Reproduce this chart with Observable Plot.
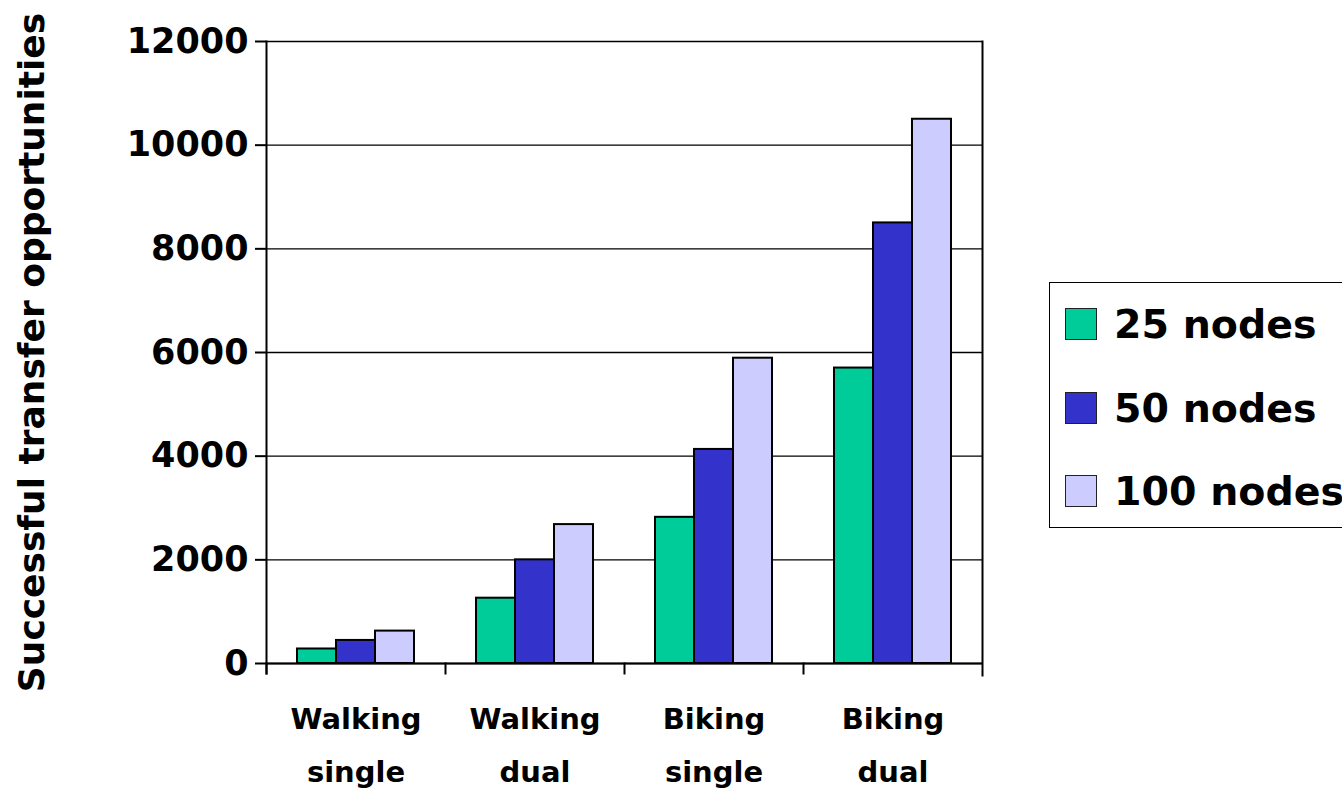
<!DOCTYPE html>
<html>
<head>
<meta charset="utf-8">
<script src="https://cdn.jsdelivr.net/npm/d3@7"></script>
<script src="https://cdn.jsdelivr.net/npm/@observablehq/plot@0.6"></script>
<style>
  html, body { margin: 0; padding: 0; background: #fff; overflow: hidden; }
  #wrap { position: relative; width: 1342px; height: 797px; font-family: "DejaVu Sans", sans-serif; font-weight: bold; }
  #legend {
    position: absolute; left: 1049px; top: 282px; width: 330px; height: 246px;
    border: 1.5px solid #000; box-sizing: border-box; background: #fff;
  }
  .item { position: absolute; left: 15px; display: flex; align-items: center; font-size: 39.5px; color: #000; white-space: nowrap; }
  .sw { width: 32px; height: 32px; border: 1.5px solid #222; box-sizing: border-box; margin-right: 17px; }
</style>
</head>
<body>
<div id="wrap"></div>
<script>
// Successful transfer opportunities by mobility scenario and network size
const categories = ["Walking single", "Walking dual", "Biking single", "Biking dual"];
const seriesNames = ["25 nodes", "50 nodes", "100 nodes"];
const nodes25 = [280, 1260, 2820, 5700];
const nodes50 = [445, 2000, 4130, 8500];
const nodes100 = [625, 2680, 5890, 10500];
const seriesColors = ["#00CC99", "#3333CC", "#CCCCFF"];
const yTicks = [0, 2000, 4000, 6000, 8000, 10000, 12000];

const seriesValues = [nodes25, nodes50, nodes100];
const rows = [];
categories.forEach((c, i) => {
  seriesNames.forEach((s, j) => rows.push({group: c, series: s, value: seriesValues[j][i]}));
});

const W = 1342, H = 797;
const margin = {top: 41, right: 360, bottom: 134, left: 265};
const innerH = H - margin.top - margin.bottom;
const font = "DejaVu Sans, sans-serif";

const chart = Plot.plot({
  width: W,
  height: H,
  marginTop: margin.top,
  marginRight: margin.right,
  marginBottom: margin.bottom,
  marginLeft: margin.left,
  style: {fontFamily: font, fontWeight: "bold", color: "#000", background: "#fff"},
  fx: {domain: categories, padding: 0},
  x: {domain: seriesNames, paddingInner: 0, paddingOuter: 0.74, axis: null},
  y: {domain: [0, 12000]},
  color: {domain: seriesNames, range: seriesColors},
  marks: [
    Plot.gridY(yTicks, {stroke: "#000", strokeOpacity: 1, strokeWidth: 1.3}),
    Plot.barY(rows, {fx: "group", x: "series", y: "value", fill: "series", stroke: "#000", strokeWidth: 2}),
    Plot.ruleY([0], {stroke: "#000", strokeWidth: 2}),
    // vertical axis line and right plot edge, both reaching below the baseline
    Plot.frame({anchor: "left", facetAnchor: "left", insetBottom: -10, stroke: "#000", strokeWidth: 2}),
    Plot.frame({anchor: "right", facetAnchor: "right", insetBottom: -12, stroke: "#000", strokeWidth: 2}),
    // short ticks between category groups
    Plot.frame({anchor: "left", insetTop: innerH, insetBottom: -10, stroke: "#000", strokeWidth: 2}),
    // tick labels
    Plot.axisY(yTicks, {
      anchor: "left",
      tickSize: 11,
      tickPadding: 7,
      strokeWidth: 2,
      fontSize: 35,
      tickFormat: (d) => String(d),
      label: null
    }),
    // axis title
    Plot.axisY([], {
      anchor: "left",
      tickSize: 0,
      fontSize: 36,
      label: "Successful transfer opportunities",
      labelAnchor: "center",
      labelArrow: "none",
      labelOffset: 248
    }),
    Plot.axisFx({
      anchor: "bottom",
      tickSize: 0,
      tickPadding: 28,
      fontSize: 29,
      lineHeight: 1.83,
      label: null,
      tickFormat: (d) => d.replace(" ", "\n")
    })
  ]
});

const wrap = document.getElementById("wrap");
wrap.appendChild(chart);

// legend box on the right
const legend = document.createElement("div");
legend.id = "legend";
const itemTops = [18, 102, 185];
seriesNames.forEach((s, i) => {
  const item = document.createElement("div");
  item.className = "item";
  item.style.top = itemTops[i] + "px";
  const sw = document.createElement("span");
  sw.className = "sw";
  sw.style.background = seriesColors[i];
  const label = document.createElement("span");
  label.textContent = s;
  item.appendChild(sw);
  item.appendChild(label);
  legend.appendChild(item);
});
wrap.appendChild(legend);
</script>
</body>
</html>
